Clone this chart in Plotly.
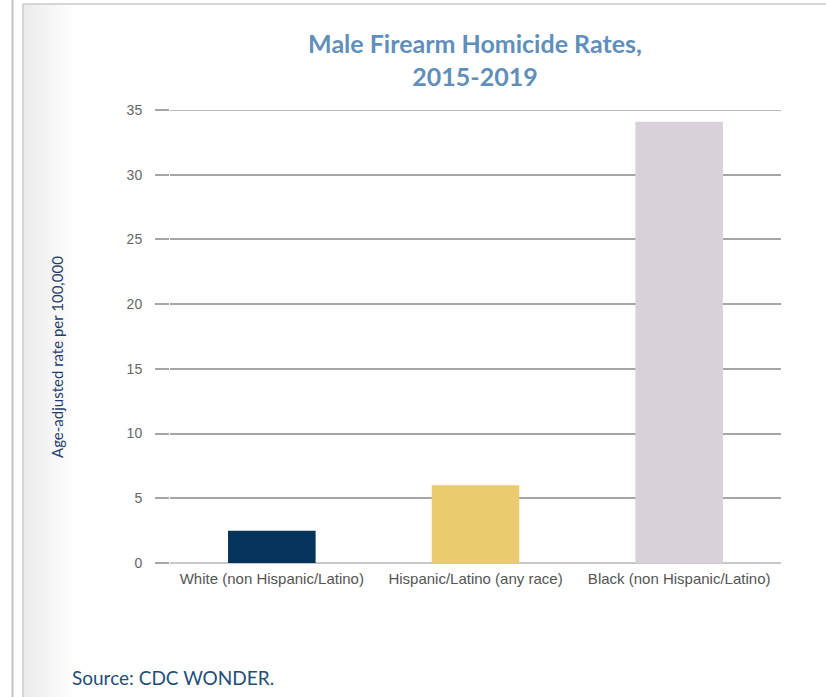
import plotly.graph_objects as go

categories = ["White (non Hispanic/Latino)", "Hispanic/Latino (any race)", "Black (non Hispanic/Latino)"]
rates = [2.5, 6.0, 34.1]
bar_colors = ["#06335a", "#ebcb6e", "#d9d1da"]
y_ticks = [0, 5, 10, 15, 20, 25, 30, 35]

L, R, T, B = 170, 45, 110, 134
W, H = 826, 697
pw, ph = W - L - R, H - T - B

def px(x):
    return (x - L) / pw

def py(y):
    return (H - B - y) / ph

fig = go.Figure(go.Bar(
    x=categories, y=rates, marker_color=bar_colors, marker_line_width=0,
    width=0.43, hoverinfo="x+y"))

shapes = []
# left gradient shading inside frame
steps = 16
for i in range(steps):
    x0 = 24 + i * 3
    g = int(236 + (255 - 236) * (i / steps))
    shapes.append(dict(type="rect", xref="paper", yref="paper",
                       x0=px(x0), x1=px(x0 + 3), y0=py(H + 5), y1=py(5),
                       fillcolor=f"rgb({g},{g},{g})", line_width=0, layer="below"))
# outer vertical line
shapes.append(dict(type="line", xref="paper", yref="paper",
                   x0=px(12.5), x1=px(12.5), y0=py(0), y1=py(H + 5),
                   line=dict(color="#c4c4c4", width=2)))
# inner frame left & top
shapes.append(dict(type="line", xref="paper", yref="paper",
                   x0=px(23), x1=px(23), y0=py(4), y1=py(H + 5),
                   line=dict(color="#c8c8c8", width=1.5)))
shapes.append(dict(type="line", xref="paper", yref="paper",
                   x0=px(23), x1=px(W + 5), y0=py(4), y1=py(4),
                   line=dict(color="#c8c8c8", width=1.5)))
# top gridline (at the range edge)
shapes.append(dict(type="line", xref="paper", yref="y",
                   x0=0, x1=1, y0=y_ticks[-1], y1=y_ticks[-1],
                   line=dict(color="#a6a6a6", width=1.5), layer="below"))

fig.update_layout(
    width=W, height=H,
    margin=dict(l=L, r=R, t=T, b=B),
    paper_bgcolor="white", plot_bgcolor="white",
    showlegend=False,
    title=dict(text="<b>Male Firearm Homicide Rates,<br>2015-2019</b>",
               xref="container", x=475 / W, xanchor="center",
               y=(H - 53) / H, yanchor="middle",
               font=dict(family="Lato", size=25, color="#5f8fba")),
    bargap=0.57,
    xaxis=dict(showgrid=False, showline=False, ticks="",
               ticklabelstandoff=5,
               tickfont=dict(family="Liberation Sans, Arial", size=15, color="#555555"),
               fixedrange=True),
    yaxis=dict(range=[0, 35], tickvals=y_ticks, showgrid=True, gridcolor="#a6a6a6",
               gridwidth=1.5, zeroline=True, zerolinecolor="#c8c8c8", zerolinewidth=1.5,
               ticks="outside", ticklen=14, tickcolor="#a6a6a6", tickwidth=1.5,
               ticklabelstandoff=10,
               tickfont=dict(family="Liberation Sans, Arial", size=14, color="#666666"),
               fixedrange=True),
    shapes=shapes,
    annotations=[
        dict(text="Source: CDC WONDER.", xref="paper", yref="paper",
             x=px(70), y=py(677), xanchor="left", yanchor="middle",
             showarrow=False,
             font=dict(family="Lato", size=19, color="#1f4e79")),
        dict(text="Age-adjusted rate per 100,000", xref="paper", yref="paper",
             x=px(57), y=py(357), xanchor="center", yanchor="middle",
             textangle=-90, showarrow=False,
             font=dict(family="Lato", size=15, color="#1f3d6b")),
    ],
)

fig.write_html("out.html")
